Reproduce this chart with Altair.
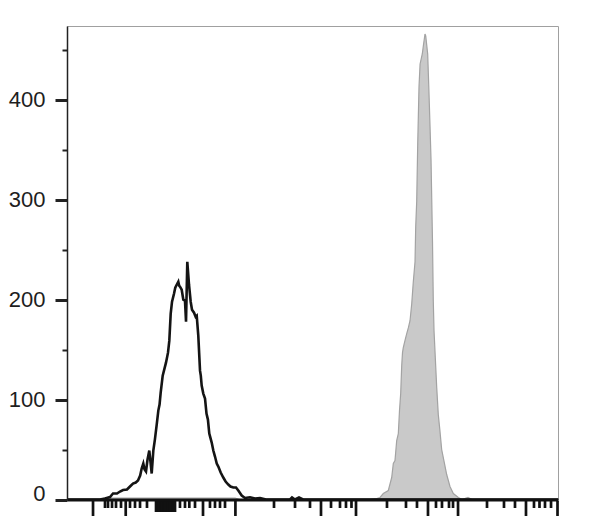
import altair as alt
import pandas as pd

# Display channel (0-1000 across the plot) and event counts
ctrl_x = [0, 67.2, 77.4, 87.6, 93.7, 101.8, 108.0, 114.1, 122.2, 128.3, 134.4, 140.0, 144.6, 149.0, 152.1,
          155.4, 158.0, 160.9, 164.0, 167.6, 170.0, 172.5, 175.8, 179.0, 182.7, 186.0, 188.5, 190.8, 194.9,
          198.0, 201.6, 205.7, 208.4, 211.2, 213.9, 217.9, 220.5, 223.4, 226.7, 228.5,
          230.1, 233.6, 236.9, 240.3, 242.4, 245.0, 248.5, 251.9, 254.6, 258.7, 262.0, 264.2, 267.4, 270.9,
          272.5, 274.3, 277.6, 281.1, 284.1, 287.0, 289.8, 292.0, 294.7, 298.0, 301.4, 305.0, 308.2, 313.0,
          318.3, 323.0, 328.5, 333.0, 338.7, 344.2, 348.9, 355.8, 362.5,
          372.7, 382.9, 393.1, 405.3, 454.2, 458.3, 464.4, 472.5, 480.7, 1000]
ctrl_y = [0, 0, 1, 2.5, 6, 6, 8, 9.5, 10, 13, 16, 17, 19, 24, 31,
          36, 30, 28, 40, 49, 38, 26, 49, 60, 75, 89, 95, 107, 124,
          130, 137, 147, 159, 186, 198, 206, 212, 215, 218, 214,
          213, 210, 200, 199, 178, 238, 215, 198, 190, 187, 183, 184, 164, 129,
          124, 114, 106, 101, 86, 80, 66, 62, 57, 49, 43, 36, 33, 27,
          22, 18, 15, 13, 12, 12, 9, 4, 1.5,
          2.3, 1, 1.5, 0, 0, 2, 0, 2, 0, 0]

stain_x = [0, 67.2, 77.4, 342.2, 352.4, 617.1, 630.8, 637.5, 644.2, 654.4, 661.3, 664.6, 668.0, 671.5,
           674.8, 677.2, 679.6, 681.7, 683.3, 684.9, 688.3, 691.9, 695.3, 698.6, 702.1, 705.3, 708.8,
           710.2, 712.2, 714.3, 716.9, 719.1, 723.6, 725.7, 729.1, 730.6, 734.6, 737.3, 739.7, 741.4,
           744.4, 746.0, 747.5, 753.0, 756.2, 759.7, 763.1, 766.4, 773.3, 780.0, 786.8, 797.0, 804.5,
           816.7, 824.9, 1000]
stain_y = [0, 0, 1.5, 1.5, 0, 0, 1, 2, 6, 9, 22, 36, 39, 59,
           66, 89, 106, 134, 147, 152, 159, 166, 172, 179, 196, 218, 238,
           273, 298, 356, 413, 436, 446, 454, 466, 464, 446, 406, 368, 340,
           258, 199, 169, 112, 85, 68, 50, 42, 25, 13, 6, 2, 0,
           2, 0, 0]

# Axis ticks
y_ticks = list(range(0, 451, 25))
x_major_ticks = [53.0, 119.6, 277.0, 343.0, 517.3, 588.6, 735.2, 796.4, 934.8, 999.0]
x_block_ticks = [181.3, 184.3, 187.4, 190.5, 193.5, 196.6, 199.6, 202.7, 205.7, 208.8, 211.8, 214.9, 217.9, 220.0]
x_minor_ticks = [77.4, 83.5, 91.7, 99.8, 110.0, 128.3, 138.5, 148.7, 162.9,
                 230.1, 240.3, 249.1, 260.7, 291.2, 301.4, 311.6, 321.8,
                 421.6, 464.4, 494.9, 537.7, 556.0, 568.2, 579.4,
                 651.7, 690.4, 712.8, 751.5, 763.7, 778.0, 786.2,
                 855.4, 890.0, 912.4, 951.1, 962.3, 973.5, 985.8]

ctrl = pd.DataFrame({"channel": ctrl_x, "count": ctrl_y})
stain = pd.DataFrame({"channel": stain_x, "count": stain_y})

tick_len = {"major": 15, "block": 11, "minor": 7}
tick_rows = ([("major", v) for v in x_major_ticks] + [("block", v) for v in x_block_ticks]
             + [("minor", v) for v in x_minor_ticks])
ticks = pd.DataFrame({
    "channel": [v for _, v in tick_rows],
    "top": [-1.5 for _ in tick_rows],
    "bottom": [-1.5 - tick_len[k] for k, _ in tick_rows],
})

x_scale = alt.Scale(domain=[0, 1000], nice=False, zero=False)
y_scale = alt.Scale(domain=[0, 474], nice=False)

x_axis = alt.Axis(
    labels=False, ticks=False, title=None, grid=False,
    domainColor="#111111", domainWidth=3, zindex=1,
)
y_axis = alt.Axis(
    values=y_ticks, title=None, grid=False,
    domainColor="#222222", domainWidth=1.5,
    tickColor="#222222",
    tickSize={"condition": {"test": "datum.value % 100 == 0", "value": 12}, "value": 5},
    tickWidth={"condition": {"test": "datum.value % 100 == 0", "value": 3}, "value": 2},
    labelExpr="datum.value % 100 == 0 ? datum.label : ''",
    labelFont="Liberation Sans", labelFontSize=22, labelColor="#1e1e1e",
    labelPadding=10,
    labelOffset={"condition": {"test": "datum.value == 0", "value": -6}, "value": 0},
    zindex=1,
)

area = alt.Chart(stain).mark_area(
    fill="#c9c9c9", stroke="#a3a3a3", strokeWidth=1.2, interpolate="linear"
).encode(
    x=alt.X("channel:Q", scale=x_scale, axis=x_axis),
    y=alt.Y("count:Q", scale=y_scale, axis=y_axis),
)

line = alt.Chart(ctrl).mark_line(
    color="#141414", strokeWidth=2.6, interpolate="linear"
).encode(
    x=alt.X("channel:Q", scale=x_scale),
    y=alt.Y("count:Q", scale=y_scale),
)

tick_marks = alt.Chart(ticks).mark_rule(color="#111111", strokeWidth=2.7).encode(
    x=alt.X("channel:Q", scale=x_scale),
    y=alt.Y("top:Q", scale=y_scale),
    y2="bottom:Q",
)

chart = alt.layer(area, line, tick_marks).properties(
    width=491, height=473.5,
    autosize=alt.AutoSizeParams(type="none"),
    padding={"left": 59, "top": 18, "right": 24, "bottom": 22},
    background="white",
).configure_view(stroke="#a0a0a0", strokeWidth=1)

chart.save("out.html", embed_options={"renderer": "svg", "actions": False})
